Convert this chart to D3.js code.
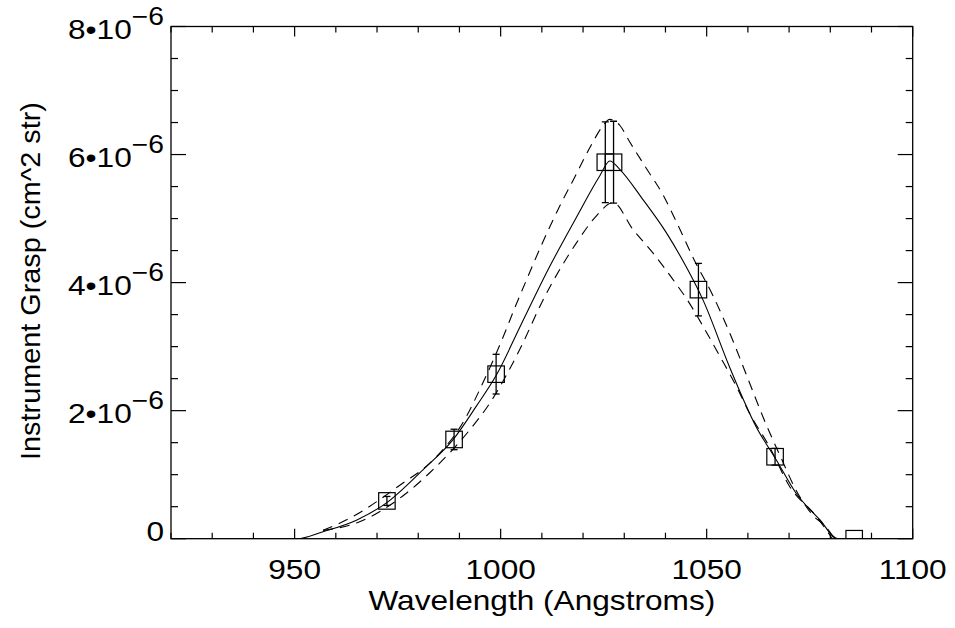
<!DOCTYPE html>
<html>
<head>
<meta charset="utf-8">
<script src="https://cdn.jsdelivr.net/npm/d3@7"></script>
<style>
  body { margin: 0; background: #fff; }
  text { font-family: "Liberation Sans", Arial, sans-serif; fill: #000; }
</style>
</head>
<body>
<script>
// measured points (wavelength in A, grasp in 1e-6 cm^2 str)
const ptWave = [972.4, 988.7, 998.9, 1025.4, 1027.4, 1048.0, 1066.6, 1085.8];
const ptGrasp = [0.59, 1.55, 2.57, 5.88, 5.88, 3.89, 1.28, 0.0];
const ptErr = [0.07, 0.16, 0.31, 0.63, 0.64, 0.41, 0.13, 0.0];

// model curve
const fitWave = [920, 950.6, 956.9, 965, 972.3, 981.2, 988.5, 994.1, 999, 1005, 1011.9, 1018.4, 1024, 1026.5, 1028.9, 1034.5, 1040.2, 1045, 1049.1, 1055.5, 1062, 1066.9, 1071.7, 1077.4, 1081.8, 1100];
const fitGrasp = [0, 0, 0.11, 0.29, 0.56, 1.08, 1.55, 2.07, 2.56, 3.35, 4.25, 5.02, 5.66, 5.9, 5.77, 5.30, 4.78, 4.25, 3.73, 2.69, 1.75, 1.23, 0.71, 0.30, 0, 0];

// upper envelope (dashed)
const hiWave = [956.9, 963.4, 976.3, 982.8, 991.7, 995.3, 1000.6, 1003.4, 1006, 1010, 1014, 1018, 1022, 1024.5, 1026.5, 1029, 1031.3, 1035.3, 1039.4, 1043, 1047, 1051.5, 1056, 1060, 1064, 1068, 1072, 1076, 1079, 1081];
const hiGrasp = [0.13, 0.32, 0.87, 1.18, 1.91, 2.38, 3.15, 3.6, 4.0, 4.6, 5.15, 5.65, 6.15, 6.42, 6.55, 6.45, 6.2, 5.79, 5.37, 4.9, 4.35, 3.8, 3.15, 2.5, 1.85, 1.27, 0.72, 0.35, 0.18, 0];

// lower envelope (dashed)
const loWave = [956.9, 965, 976.7, 982.8, 992.5, 997.4, 1004.6, 1010.3, 1014.3, 1018.4, 1023.2, 1027.3, 1032.1, 1037, 1041.8, 1045.8, 1049.1, 1053.2, 1057.2, 1060.4, 1065.2, 1070.1, 1076.6, 1080.5];
const loGrasp = [0.13, 0.245, 0.69, 1.03, 1.70, 2.12, 2.95, 3.73, 4.2, 4.62, 5.04, 5.25, 4.83, 4.46, 4.05, 3.68, 3.32, 2.85, 2.38, 1.96, 1.44, 0.82, 0.35, 0];

const xMajor = [950, 1000, 1050, 1100];
const xMinor = d3.range(920, 1101, 10);
const yMajor = [0, 2, 4, 6, 8];
const yMinor = d3.range(0, 8.01, 0.5);

const width = 955, height = 628;
const pL = 171, pR = 912.7, pT = 26.5, pB = 538.7;

const x = d3.scaleLinear().domain([920, 1100]).range([pL, pR]);
const y = d3.scaleLinear().domain([0, 8]).range([pB, pT]);

const svg = d3.select("body").append("svg")
  .attr("width", width).attr("height", height);

svg.append("defs").append("clipPath").attr("id", "plot")
  .append("rect").attr("x", pL).attr("y", pT)
  .attr("width", pR - pL).attr("height", pB - pT);

// the original font runs a little wider than Arial, so stretch horizontally
function label(px, py, anchor, rot, stretch) {
  return svg.append("text")
    .attr("transform", `translate(${px},${py}) rotate(${rot || 0}) scale(${stretch || 1.13},1)`)
    .attr("text-anchor", anchor).attr("font-size", 28);
}

// frame
svg.append("rect")
  .attr("x", pL).attr("y", pT)
  .attr("width", pR - pL).attr("height", pB - pT)
  .attr("fill", "none").attr("stroke", "#000").attr("stroke-width", 1.3);

const ticks = svg.append("g").attr("stroke", "#000").attr("stroke-width", 1.2);

// x ticks, bottom and top, pointing inward
xMinor.forEach(v => {
  const len = xMajor.includes(v) ? 10 : 6;
  ticks.append("line").attr("x1", x(v)).attr("x2", x(v)).attr("y1", pB).attr("y2", pB - len);
  ticks.append("line").attr("x1", x(v)).attr("x2", x(v)).attr("y1", pT).attr("y2", pT + len);
});
// y ticks, left and right
yMinor.forEach(v => {
  const len = yMajor.includes(v) ? 15 : 7;
  ticks.append("line").attr("y1", y(v)).attr("y2", y(v)).attr("x1", pL).attr("x2", pL + len);
  ticks.append("line").attr("y1", y(v)).attr("y2", y(v)).attr("x1", pR).attr("x2", pR - len);
});

// x tick labels
xMajor.forEach(v => label(x(v), 579, "middle").text(v));

// y tick labels
yMajor.forEach(v => {
  if (v === 0) {
    label(164, y(v) + 2, "end").text("0");
  } else {
    const t = label(164, y(v) + 12.5, "end");
    t.append("tspan").text(v + "\u202210");
    t.append("tspan").attr("font-size", 25).attr("dy", -14).text("\u22126");
  }
});

// axis titles
label((pL + pR) / 2, 610, "middle").text("Wavelength (Angstroms)");
label(40, 281, "middle", -90, 1.03).text("Instrument Grasp (cm^2 str)");

const plot = svg.append("g").attr("clip-path", "url(#plot)");

const line = d3.line().curve(d3.curveMonotoneX)
  .x(d => x(d[0])).y(d => y(d[1]));

plot.append("path")
  .datum(d3.zip(fitWave, fitGrasp))
  .attr("d", line).attr("fill", "none")
  .attr("stroke", "#000").attr("stroke-width", 1.1);

[[hiWave, hiGrasp], [loWave, loGrasp]].forEach(([w, g]) => {
  plot.append("path")
    .datum(d3.zip(w, g))
    .attr("d", line).attr("fill", "none")
    .attr("stroke", "#000").attr("stroke-width", 1.1)
    .attr("stroke-dasharray", "10,7");
});

// error bars
const pts = d3.zip(ptWave, ptGrasp, ptErr);
const eb = plot.append("g").attr("stroke", "#000").attr("stroke-width", 1.3);
pts.filter(d => d[2] > 0).forEach(([w, g, e]) => {
  const cx = x(w);
  eb.append("line").attr("x1", cx).attr("x2", cx).attr("y1", y(g - e)).attr("y2", y(g + e));
  eb.append("line").attr("x1", cx - 3.5).attr("x2", cx + 3.5).attr("y1", y(g - e)).attr("y2", y(g - e));
  eb.append("line").attr("x1", cx - 3.5).attr("x2", cx + 3.5).attr("y1", y(g + e)).attr("y2", y(g + e));
});

// square markers
const s = 16.5;
plot.append("g").selectAll("rect").data(pts).join("rect")
  .attr("x", d => x(d[0]) - s / 2).attr("y", d => y(d[1]) - s / 2)
  .attr("width", s).attr("height", s)
  .attr("fill", "none").attr("stroke", "#000").attr("stroke-width", 1.2);
</script>
</body>
</html>
